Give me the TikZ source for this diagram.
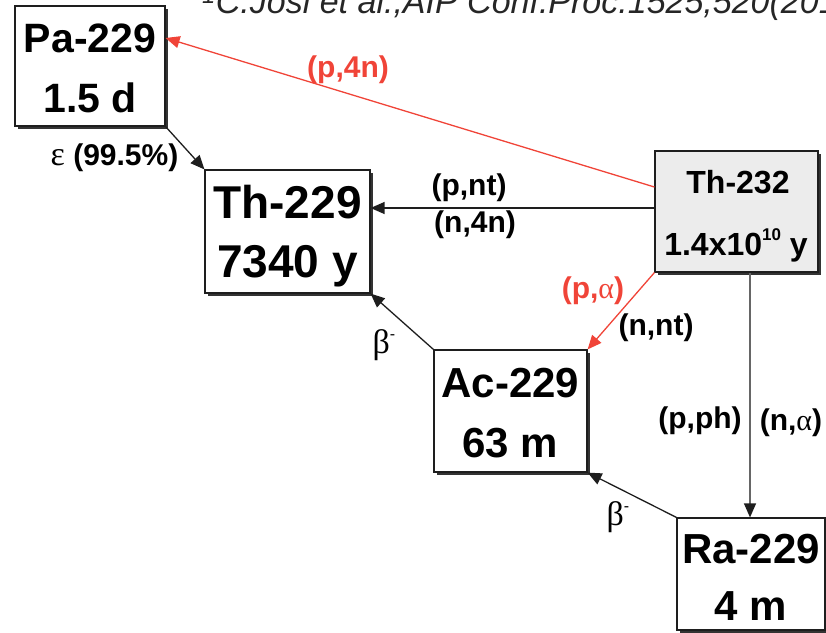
\documentclass[tikz,border=0pt]{standalone}
\usepackage{fontspec}
\setmainfont{Liberation Sans}
\newfontfamily\grk{Liberation Serif}
\usetikzlibrary{arrows.meta,shadows}
\definecolor{rd}{RGB}{240,68,56}
\definecolor{boxgray}{RGB}{236,236,236}
\definecolor{ink}{RGB}{30,30,30}
\begin{document}
\begin{tikzpicture}[x=1pt,y=-1pt,
  nbox/.style={draw=ink, line width=1.2pt, fill=white, inner sep=0pt,
    drop shadow={shadow xshift=2.5pt,shadow yshift=-2.5pt,fill=black!80,opacity=1}},
  big/.style={anchor=base, inner sep=0pt, font=\bfseries\fontsize{#1}{#1}\selectfont},
  lbl/.style={anchor=base, inner sep=0pt, font=\bfseries\fontsize{30}{30}\selectfont},
  glbl/.style={anchor=base, inner sep=0pt, font=\fontsize{34}{34}\selectfont},
  conn/.style={draw=ink, line width=1.3pt, -{Triangle[length=14pt,width=12pt]}},
]
\useasboundingbox (0,0) rectangle (826,632);
\clip (0,0) rectangle (826,632);

% citation
\node[anchor=base west, inner sep=0pt, text=black!85,
  font=\itshape\fontsize{34}{34}\selectfont] (cite) at (202,13)
  {\textsuperscript{1}C.Josi et al.,AIP Conf.Proc.1525,520(2013)};

% boxes
\node[nbox, minimum width=150pt, minimum height=120pt] (pa) at (90,66) {};
\node[nbox, minimum width=165pt, minimum height=123pt] (th229) at (287.5,231.5) {};
\node[nbox, fill=boxgray, minimum width=163pt, minimum height=121pt] (th232) at (736.5,211.5) {};
\node[nbox, minimum width=153pt, minimum height=122pt] (ac) at (510.5,411) {};
\node[nbox, minimum width=148pt, minimum height=112pt] (ra) at (751,574) {};

% box texts
\node[big=41] (pa1) at (90,52) {Pa-229};
\node[big=41] (pa2) at (90,112) {1.5 d};
\node[big=46] (th1) at (287.5,218) {Th-229};
\node[big=46] (th2) at (287.5,277) {7340 y};
\node[big=32] (tt1) at (738,193) {Th-232};
\node[big=32] (tt2) at (736,255) {1.4x10\raisebox{15pt}{\fontsize{17}{17}\selectfont 10} y};
\node[big=42] (ac1) at (510.5,397) {Ac-229};
\node[big=42] (ac2) at (510.5,457) {63 m};
\node[big=42] (ra1) at (751,563) {Ra-229};
\node[big=42] (ra2) at (751,620) {4 m};

% connectors
\draw[conn, draw=rd, -{Triangle[length=14pt,width=12pt,color=rd]}]
  ([yshift=24.5pt]th232.west) -- ([yshift=28pt]pa.east);
\draw[conn] ([yshift=3.5pt]th232.west) -- ([yshift=3.5pt]th232.west -| th229.east);
\draw[conn, draw=rd, -{Triangle[length=14pt,width=12pt,color=rd]}]
  (th232.south west) -- (ac.north east);
\draw[conn, draw=black!60, -{Triangle[length=14pt,width=12pt,color=ink]}]
  ([xshift=13.5pt]th232.south) -- ([xshift=13.5pt]th232.south |- ra.north);
\draw[conn] (pa.south east) -- (th229.north west);
\draw[conn] (ac.north west) -- (th229.south east);
\draw[conn] (ra.north west) -- (ac.south east);

% labels
\node[lbl, text=rd] (l1) at (348,77) {(p,4n)};
\node[lbl] (l2) at (469,195) {(p,nt)};
\node[lbl] (l3) at (475,232) {(n,4n)};
\node[lbl, text=rd] (l4) at (593,298) {(p,{\mdseries\grk α})};
\node[lbl] (l5) at (656,335) {(n,nt)};
\node[lbl] (l6) at (700,428) {(p,ph)};
\node[lbl] (l7) at (791,430) {(n,{\mdseries\grk α})};
\node[lbl] (l8) at (114.5,165) {{\mdseries\grk\fontsize{34}{34}\selectfont ε} (99.5\%)};
\node[glbl] (b1) at (384,353) {{\grk β}\raisebox{14pt}{\fontsize{16}{16}\selectfont -}};
\node[glbl] (b2) at (618,525) {{\grk β}\raisebox{14pt}{\fontsize{16}{16}\selectfont -}};
\end{tikzpicture}
\end{document}
